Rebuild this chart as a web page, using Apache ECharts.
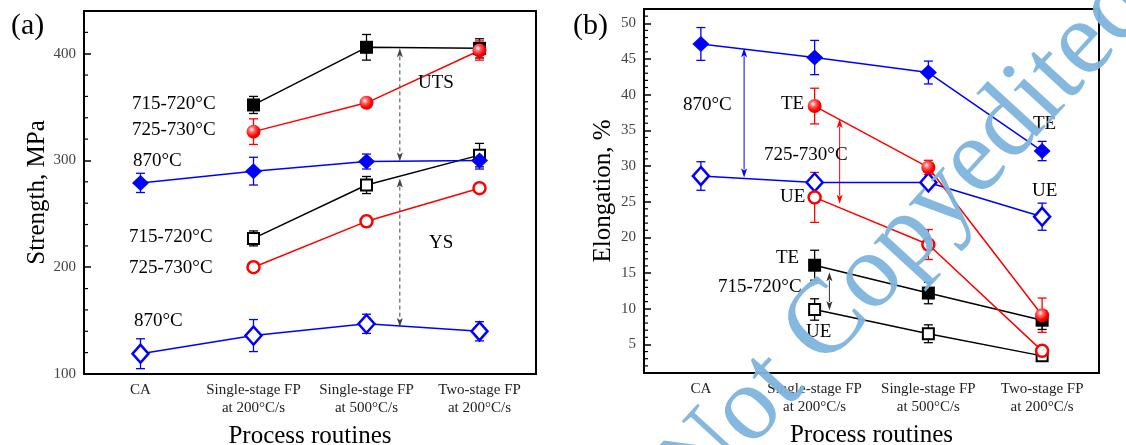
<!DOCTYPE html>
<html>
<head>
<meta charset="utf-8">
<script src="https://cdn.jsdelivr.net/npm/echarts@6/dist/echarts.min.js"></script>
<style>
  html, body { margin: 0; padding: 0; background: #fff; }
  #chart { width: 1126px; height: 445px; }
</style>
</head>
<body>
<div id="chart"></div>
<script>
// Process routines shared by both panels
const categories = ['CA', 'Single-stage FP\nat 200°C/s', 'Single-stage FP\nat 500°C/s', 'Two-stage FP\nat 200°C/s'];

// (a) Strength, MPa  — UTS (filled) and YS (open) for three intercritical temperatures
const uts715 = [null, 352, 406, 405];
const uts715Err = [0, 8, 12, 9];
const uts725 = [null, 327, 354, 403];
const uts725Err = [0, 12, 4, 9];
const uts870 = [279, 290, 299, 300];
const uts870Err = [9, 13, 7, 8];
const ys715 = [null, 227, 277, 305];
const ys715Err = [0, 7, 8, 11];
const ys725 = [null, 200, 243, 274];
const ys725Err = [0, 0, 5, 0];
const ys870 = [119, 136, 147, 140];
const ys870Err = [14, 15, 9, 9];
const strengthTicks = [100, 200, 300, 400];
const strengthMinorTicks = [120, 140, 160, 180, 220, 240, 260, 280, 320, 340, 360, 380, 420];

// (b) Elongation, %  — TE (filled) and UE (open)
const te870 = [47.1, 45.2, 43.1, 32.1];
const te870Err = [2.3, 2.4, 1.6, 1.35];
const ue870 = [28.6, 27.7, 27.7, 22.9];
const ue870Err = [2.0, 0, 0, 1.9];
const te725 = [null, 38.4, 29.8, 9.1];
const te725Err = [0, 2.5, 1.0, 2.4];
const ue725 = [null, 25.6, 19.0, 4.1];
const ue725Err = [0, 3.5, 2.1, 0];
const te715 = [null, 16.1, 12.2, 8.4];
const te715Err = [0, 2.1, 1.5, 1.3];
const ue715 = [null, 9.9, 6.5, 3.4];
const ue715Err = [0, 1.5, 1.25, 0.5];
const elongTicks = [5, 10, 15, 20, 25, 30, 35, 40, 45, 50];
const elongMinorTicks = [2, 3, 4, 6, 7, 8, 9, 11, 12, 13, 14, 16, 17, 18, 19, 21, 22, 23, 24,
  26, 27, 28, 29, 31, 32, 33, 34, 36, 37, 38, 39, 41, 42, 43, 44, 46, 47, 48, 49, 51];

// Double-headed span arrows: [position along the routine axis, upper value, lower value]
const spanUTS = [2.295, 405, 299];
const spanYS = [2.295, 283, 144];
const span870 = [0.38, 46.5, 28.4];
const span725 = [1.22, 36.6, 24.7];
const span715 = [1.13, 15.1, 9.8];

const SERIF = '"Liberation Serif", "Times New Roman", Times, serif';
const BLACK = '#000000', RED = '#ff0000', BLUE = '#0000ff';

const sphereRed = {
  type: 'radial', x: 0.38, y: 0.35, r: 0.65,
  colorStops: [
    { offset: 0, color: '#ffffff' },
    { offset: 0.3, color: '#ff6a6a' },
    { offset: 0.75, color: '#ff0000' },
    { offset: 1, color: '#e00000' }
  ]
};

const markers = {
  filledSquare: { symbol: 'rect', symbolSize: 13, itemStyle: { color: BLACK } },
  openSquare: { symbol: 'rect', symbolSize: 11, itemStyle: { color: '#fff', borderColor: BLACK, borderWidth: 2 } },
  filledCircle: { symbol: 'circle', symbolSize: 14, itemStyle: { color: sphereRed } },
  openCircle: { symbol: 'circle', symbolSize: 12, itemStyle: { color: '#fff', borderColor: RED, borderWidth: 2.5 } },
  filledDiamond: { symbol: 'diamond', symbolSize: [17, 16], itemStyle: { color: BLUE } },
  openDiamond: { symbol: 'diamond', symbolSize: [16, 18], itemStyle: { color: '#fff', borderColor: BLUE, borderWidth: 2.5 } }
};

function lineSeries(panel, values, color, marker) {
  const m = markers[marker];
  return {
    type: 'line', xAxisIndex: panel, yAxisIndex: panel,
    data: values, symbol: m.symbol, symbolSize: m.symbolSize,
    itemStyle: m.itemStyle, lineStyle: { color: color, width: 1.5 },
    showAllSymbol: true, animation: false, z: 4, silent: true
  };
}

function errorSeries(panel, values, errs, color) {
  const data = [];
  values.forEach((v, i) => { if (v != null && errs[i] > 0) data.push([i, v, errs[i]]); });
  return {
    type: 'custom', xAxisIndex: panel, yAxisIndex: panel, data: data, z: 3,
    animation: false, silent: true,
    renderItem: function (params, api) {
      const x = api.value(0), v = api.value(1), e = api.value(2);
      const top = api.coord([x, v + e]);
      const bot = api.coord([x, v - e]);
      const hw = 4.5;
      const style = { stroke: color, lineWidth: 1.3 };
      return {
        type: 'group', children: [
          { type: 'line', shape: { x1: top[0], y1: top[1], x2: bot[0], y2: bot[1] }, style: style },
          { type: 'line', shape: { x1: top[0] - hw, y1: top[1], x2: top[0] + hw, y2: top[1] }, style: style },
          { type: 'line', shape: { x1: bot[0] - hw, y1: bot[1], x2: bot[0] + hw, y2: bot[1] }, style: style }
        ]
      };
    }
  };
}

// Arrows sit between routines, so they use a continuous companion x axis (index 2 + panel)
function arrowSeries(panel, span, color, dashed) {
  return {
    type: 'custom', xAxisIndex: 2 + panel, yAxisIndex: panel, data: [span], z: 2,
    animation: false, silent: true,
    renderItem: function (params, api) {
      const p1 = api.coord([api.value(0), api.value(1)]);
      const p2 = api.coord([api.value(0), api.value(2)]);
      const hl = 8, hw = 3;
      return {
        type: 'group', children: [
          { type: 'line', shape: { x1: p1[0], y1: p1[1] + hl, x2: p2[0], y2: p2[1] - hl },
            style: { stroke: color, lineWidth: 1, lineDash: dashed ? [4, 3] : null } },
          { type: 'polygon', shape: { points: [[p1[0], p1[1]], [p1[0] - hw, p1[1] + hl + 1], [p1[0], p1[1] + hl - 1], [p1[0] + hw, p1[1] + hl + 1]] },
            style: { fill: color } },
          { type: 'polygon', shape: { points: [[p2[0], p2[1]], [p2[0] - hw, p2[1] - hl - 1], [p2[0], p2[1] - hl + 1], [p2[0] + hw, p2[1] - hl - 1]] },
            style: { fill: color } }
        ]
      };
    }
  };
}

// Short inward minor ticks along the left axis, placed through the value scale
function minorTickSeries(panel, values) {
  return {
    type: 'custom', xAxisIndex: 2 + panel, yAxisIndex: panel,
    data: values.map(v => [-0.5, v]), z: 5, animation: false, silent: true, clip: false,
    renderItem: function (params, api) {
      const p = api.coord([api.value(0), api.value(1)]);
      return { type: 'line', shape: { x1: p[0], y1: p[1], x2: p[0] + 4, y2: p[1] },
        style: { stroke: '#000', lineWidth: 1.2 } };
    }
  };
}

function xAxisFor(gridIndex) {
  return {
    type: 'category', gridIndex: gridIndex, data: categories, boundaryGap: true,
    axisLine: { onZero: false, lineStyle: { color: '#000', width: 2 } },
    axisTick: { inside: true, alignWithLabel: true, length: 7, lineStyle: { color: '#000', width: 1.5 } },
    axisLabel: { fontFamily: SERIF, fontSize: 15, color: '#222', lineHeight: 18, margin: 7, interval: 0 },
    splitLine: { show: false },
    name: 'Process routines', nameLocation: 'middle', nameGap: 50,
    nameTextStyle: { fontFamily: SERIF, fontSize: 25, color: '#000' }
  };
}

function positionAxisFor(gridIndex) {
  return {
    type: 'value', gridIndex: gridIndex, min: -0.5, max: 3.5, show: false,
    axisLine: { onZero: false },
    splitLine: { show: false }
  };
}

function yAxisFor(gridIndex, min, max, ticks, name, nameGap) {
  return {
    type: 'value', gridIndex: gridIndex, min: min, max: max,
    axisLine: { show: true, onZero: false, lineStyle: { color: '#000', width: 2 } },
    axisTick: { show: true, inside: true, length: 7, customValues: ticks, lineStyle: { color: '#000', width: 1.5 } },
    axisLabel: { customValues: ticks, fontFamily: SERIF, fontSize: 15, color: '#444', margin: 8 },
    splitLine: { show: false },
    name: name, nameLocation: 'middle', nameGap: nameGap,
    nameTextStyle: { fontFamily: SERIF, fontSize: 25, color: '#000' }
  };
}

function label(text, left, y) {
  return {
    type: 'text', left: left, top: y - 11, z: 50, silent: true,
    style: { text: text, fontFamily: SERIF, fontSize: 19, fill: '#000' }
  };
}

const chart = echarts.init(document.getElementById('chart'), null, { renderer: 'canvas' });

chart.setOption({
  backgroundColor: '#ffffff',
  animation: false,
  grid: [
    { left: 84, top: 11, right: 590, bottom: 71, outerBoundsMode: 'none', containLabel: false,
      show: true, borderColor: '#000', borderWidth: 2, backgroundColor: 'transparent' },
    { left: 644, top: 9, right: 27, bottom: 72, outerBoundsMode: 'none', containLabel: false,
      show: true, borderColor: '#000', borderWidth: 2, backgroundColor: 'transparent' }
  ],
  xAxis: [xAxisFor(0), xAxisFor(1), positionAxisFor(0), positionAxisFor(1)],
  yAxis: [
    yAxisFor(0, 100, 440, strengthTicks, 'Strength, MPa', 33),
    yAxisFor(1, 1, 52, elongTicks, 'Elongation, %', 28)
  ],
  series: [
    minorTickSeries(0, strengthMinorTicks),
    minorTickSeries(1, elongMinorTicks),

    arrowSeries(0, spanUTS, '#444', true),
    arrowSeries(0, spanYS, '#444', true),
    arrowSeries(1, span870, BLUE, false),
    arrowSeries(1, span725, RED, false),
    arrowSeries(1, span715, '#333', false),

    errorSeries(0, uts715, uts715Err, BLACK),
    errorSeries(0, uts725, uts725Err, RED),
    errorSeries(0, uts870, uts870Err, BLUE),
    errorSeries(0, ys715, ys715Err, BLACK),
    errorSeries(0, ys725, ys725Err, RED),
    errorSeries(0, ys870, ys870Err, BLUE),
    lineSeries(0, ys715, BLACK, 'openSquare'),
    lineSeries(0, ys725, RED, 'openCircle'),
    lineSeries(0, ys870, BLUE, 'openDiamond'),
    lineSeries(0, uts715, BLACK, 'filledSquare'),
    lineSeries(0, uts725, RED, 'filledCircle'),
    lineSeries(0, uts870, BLUE, 'filledDiamond'),

    errorSeries(1, te870, te870Err, BLUE),
    errorSeries(1, ue870, ue870Err, BLUE),
    errorSeries(1, te725, te725Err, RED),
    errorSeries(1, ue725, ue725Err, RED),
    errorSeries(1, te715, te715Err, BLACK),
    errorSeries(1, ue715, ue715Err, BLACK),
    lineSeries(1, ue715, BLACK, 'openSquare'),
    lineSeries(1, te715, BLACK, 'filledSquare'),
    lineSeries(1, ue870, BLUE, 'openDiamond'),
    lineSeries(1, te870, BLUE, 'filledDiamond'),
    lineSeries(1, ue725, RED, 'openCircle'),
    lineSeries(1, te725, RED, 'filledCircle')
  ],
  graphic: [
    { type: 'text', left: 11, top: 11, z: 50, style: { text: '(a)', fontFamily: SERIF, fontSize: 30, fill: '#000' } },
    { type: 'text', left: 573, top: 11, z: 50, style: { text: '(b)', fontFamily: SERIF, fontSize: 30, fill: '#000' } },

    label('715-720°C', 132, 106),
    label('725-730°C', 132, 132),
    label('870°C', 133, 163),
    label('UTS', 418, 85),
    label('715-720°C', 129, 239),
    label('725-730°C', 129, 270),
    label('870°C', 134, 323),
    label('YS', 429, 245),

    label('870°C', 683, 107),
    label('TE', 781, 106),
    label('725-730°C', 764, 157),
    label('UE', 780, 199),
    label('TE', 776, 260),
    label('715-720°C', 718, 289),
    label('UE', 806, 334),
    label('TE', 1033, 126),
    label('UE', 1032, 193),

    {
      type: 'text', x: 906, y: 238, rotation: 47.5 * Math.PI / 180, z: 100, silent: true,
      style: {
        text: 'Not Copyedited', fontFamily: SERIF, fontSize: 106, fill: '#7db4dd',
        align: 'center', verticalAlign: 'middle', opacity: 0.95
      }
    }
  ]
});
</script>
</body>
</html>
